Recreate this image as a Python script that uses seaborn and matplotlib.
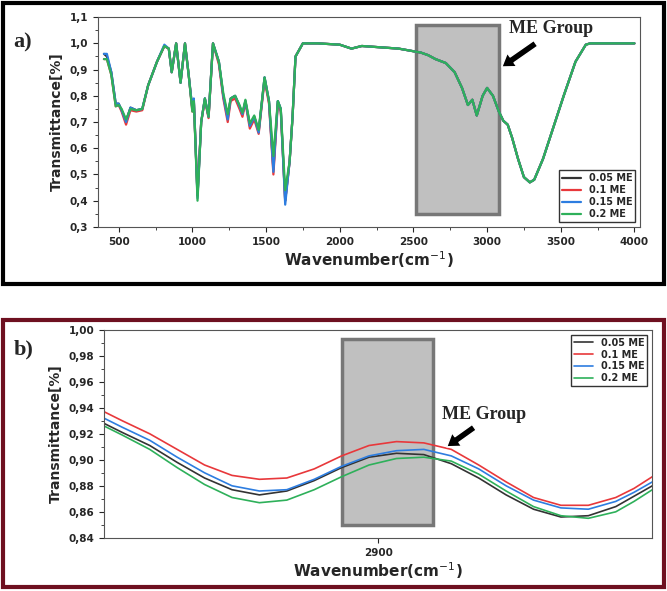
import seaborn as sns
import matplotlib.pyplot as plt
import pandas as pd
from matplotlib.patches import Rectangle
from matplotlib.ticker import MultipleLocator, FuncFormatter

# ---- panel a: full spectrum ----
wn_a = [400, 420, 450, 480, 500, 520, 550, 580, 620, 660, 700, 760, 810, 840, 860, 890, 920, 950,
        975, 1000, 1010, 1035, 1060, 1085, 1110, 1140, 1180, 1210, 1240, 1260, 1290, 1320, 1340,
        1360, 1390, 1420, 1450, 1490, 1520, 1550, 1580, 1600, 1630, 1660, 1680, 1700, 1750, 1850,
        2000, 2080, 2150, 2400, 2550]
t_005 = [0.96, 0.95, 0.89, 0.77, 0.77, 0.745, 0.705, 0.755, 0.745, 0.75, 0.84, 0.93, 0.99, 0.98,
         0.89, 1.0, 0.85, 1.0, 0.88, 0.75, 0.785, 0.42, 0.70, 0.79, 0.72, 1.0, 0.93, 0.80, 0.72,
         0.79, 0.80, 0.76, 0.73, 0.78, 0.69, 0.72, 0.665, 0.87, 0.78, 0.52, 0.78, 0.75, 0.40, 0.55,
         0.72, 0.95, 1.0, 1.0, 0.995, 0.98, 0.99, 0.98, 0.965]
t_01 = [0.94, 0.94, 0.88, 0.76, 0.765, 0.74, 0.69, 0.745, 0.74, 0.745, 0.84, 0.93, 0.99, 0.98,
        0.89, 1.0, 0.85, 1.0, 0.88, 0.74, 0.78, 0.42, 0.70, 0.785, 0.715, 1.0, 0.92, 0.79, 0.70,
        0.78, 0.79, 0.75, 0.72, 0.775, 0.675, 0.71, 0.655, 0.86, 0.77, 0.50, 0.77, 0.74, 0.40,
        0.55, 0.72, 0.95, 1.0, 1.0, 0.995, 0.98, 0.99, 0.98, 0.965]
t_015 = [0.96, 0.96, 0.89, 0.77, 0.77, 0.745, 0.70, 0.755, 0.745, 0.75, 0.84, 0.93, 0.995, 0.98,
         0.89, 1.0, 0.85, 1.0, 0.88, 0.75, 0.79, 0.41, 0.70, 0.79, 0.72, 1.0, 0.93, 0.80, 0.71,
         0.79, 0.80, 0.76, 0.73, 0.78, 0.685, 0.72, 0.66, 0.87, 0.78, 0.51, 0.78, 0.75, 0.385,
         0.55, 0.72, 0.95, 1.0, 1.0, 0.995, 0.98, 0.99, 0.98, 0.965]
t_02 = [0.94, 0.94, 0.88, 0.76, 0.765, 0.75, 0.71, 0.75, 0.745, 0.75, 0.84, 0.93, 0.99, 0.98,
        0.89, 1.0, 0.85, 1.0, 0.88, 0.74, 0.78, 0.40, 0.70, 0.79, 0.72, 1.0, 0.93, 0.81, 0.73,
        0.79, 0.80, 0.765, 0.735, 0.785, 0.695, 0.725, 0.67, 0.87, 0.78, 0.57, 0.78, 0.75, 0.44,
        0.55, 0.72, 0.95, 1.0, 1.0, 0.995, 0.98, 0.99, 0.98, 0.965]
# above 2550 cm-1 the four spectra overlap
tail_wn = [2600, 2650, 2720, 2780, 2830, 2870, 2900, 2930, 2970, 3000, 3040, 3080, 3110, 3140,
           3170, 3210, 3250, 3290, 3320, 3380, 3450, 3520, 3600, 3670, 3700, 3800, 4000]
tail_t = [0.955, 0.94, 0.925, 0.89, 0.83, 0.765, 0.785, 0.725, 0.80, 0.83, 0.80, 0.74, 0.705,
          0.69, 0.64, 0.56, 0.49, 0.47, 0.48, 0.56, 0.68, 0.80, 0.93, 0.995, 1.0, 1.0, 1.0]

# ---- panel b: zoom around 2900 cm-1 ----
wn_b = [2870, 2872, 2875, 2878, 2881, 2884, 2887, 2890, 2893, 2896, 2899, 2902, 2905, 2908,
        2911, 2914, 2917, 2920, 2923, 2926, 2928, 2930]
b_005 = [0.928, 0.921, 0.911, 0.898, 0.886, 0.877, 0.873, 0.876, 0.884, 0.894, 0.902, 0.905,
         0.904, 0.897, 0.886, 0.873, 0.862, 0.856, 0.857, 0.864, 0.872, 0.880]
b_01 = [0.937, 0.930, 0.920, 0.908, 0.896, 0.888, 0.885, 0.886, 0.893, 0.903, 0.911, 0.914,
        0.913, 0.908, 0.896, 0.883, 0.871, 0.865, 0.865, 0.871, 0.878, 0.887]
b_015 = [0.932, 0.925, 0.915, 0.902, 0.890, 0.880, 0.876, 0.877, 0.885, 0.895, 0.903, 0.907,
         0.908, 0.903, 0.893, 0.880, 0.869, 0.863, 0.862, 0.868, 0.875, 0.883]
b_02 = [0.926, 0.919, 0.908, 0.894, 0.881, 0.871, 0.867, 0.869, 0.877, 0.887, 0.896, 0.901,
        0.902, 0.899, 0.889, 0.876, 0.864, 0.857, 0.855, 0.860, 0.868, 0.877]

labels = ["0.05 ME", "0.1 ME", "0.15 ME", "0.2 ME"]
colors = ["#333333", "#e8383b", "#2d7de0", "#2eb05a"]

sns.set_style("ticks")
fig = plt.figure(figsize=(6.67, 5.91), dpi=100)

# frames
fig.patches.append(Rectangle((0.004, 0.52), 0.992, 0.475, transform=fig.transFigure,
                             fill=False, ec="black", lw=3))
fig.patches.append(Rectangle((0.004, 0.006), 0.992, 0.452, transform=fig.transFigure,
                             fill=False, ec="#6e1020", lw=3))

comma = FuncFormatter(lambda v, p: f"{v:.1f}".replace(".", ","))
comma2 = FuncFormatter(lambda v, p: f"{v:.2f}".replace(".", ","))

def draw(ax, x, series, lw):
    rows = []
    for lab, ys in zip(labels, series):
        rows += [{"wn": a, "T": b, "s": lab} for a, b in zip(x, ys)]
    df = pd.DataFrame(rows)
    sns.lineplot(data=df, x="wn", y="T", hue="s", palette=colors, sort=False,
                 estimator=None, lw=lw, ax=ax)
    for s in ax.spines.values():
        s.set_color("#555555")
    ax.set_xlabel("Wavenumber(cm$^{-1}$)", fontsize=11, fontweight="bold", labelpad=2)
    ax.set_ylabel("Transmittance[%]", fontsize=10, fontweight="bold")
    ax.tick_params(labelsize=7.5)
    for t in ax.get_xticklabels() + ax.get_yticklabels():
        t.set_fontweight("bold")

# panel a
ax1 = fig.add_axes([0.147, 0.616, 0.813, 0.355])
draw(ax1, wn_a + tail_wn, [ys + tail_t for ys in [t_005, t_01, t_015, t_02]], 1.6)
ax1.set_xlim(360, 4040)
ax1.set_ylim(0.3, 1.1)
ax1.xaxis.set_major_locator(MultipleLocator(500))
ax1.xaxis.set_minor_locator(MultipleLocator(250))
ax1.yaxis.set_major_locator(MultipleLocator(0.1))
ax1.yaxis.set_minor_locator(MultipleLocator(0.05))
ax1.yaxis.set_major_formatter(comma)
ax1.add_patch(Rectangle((2520, 0.35), 560, 0.72, fc="#c0c0c0", ec="#777777", lw=2.5, zorder=0))
ax1.legend(loc="lower right", frameon=True, edgecolor="black", fancybox=False,
           handlelength=2, borderpad=0.3, labelspacing=0.2, prop={"weight": "bold", "size": 7})
ax1.annotate("", xy=(3100, 0.91), xytext=(3330, 1.0),
             arrowprops=dict(facecolor="black", width=5, headwidth=12, headlength=9))
ax1.text(3150, 1.04, "ME Group", fontsize=13, fontweight="bold", family="Liberation Serif")
fig.text(0.02, 0.92, "a)", fontsize=16, fontweight="bold", family="Liberation Serif")

# panel b
ax2 = fig.add_axes([0.156, 0.09, 0.822, 0.352])
draw(ax2, wn_b, [b_005, b_01, b_015, b_02], 1.2)
ax2.set_xlim(2870, 2930)
ax2.set_ylim(0.84, 1.0)
ax2.set_xticks([2900])
ax2.yaxis.set_major_locator(MultipleLocator(0.02))
ax2.yaxis.set_minor_locator(MultipleLocator(0.01))
ax2.yaxis.set_major_formatter(comma2)
ax2.add_patch(Rectangle((2896, 0.85), 10, 0.143, fc="#c0c0c0", ec="#777777", lw=2.5, zorder=0))
ax2.legend(loc="upper right", frameon=True, edgecolor="black", fancybox=False,
           handlelength=2, borderpad=0.3, labelspacing=0.2, prop={"weight": "bold", "size": 7})
ax2.annotate("", xy=(2907.5, 0.91), xytext=(2910.5, 0.925),
             arrowprops=dict(facecolor="black", width=5, headwidth=12, headlength=9))
ax2.text(2907, 0.931, "ME Group", fontsize=13, fontweight="bold", family="Liberation Serif")
fig.text(0.02, 0.40, "b)", fontsize=16, fontweight="bold", family="Liberation Serif")

fig.savefig("out.png", dpi=100)
